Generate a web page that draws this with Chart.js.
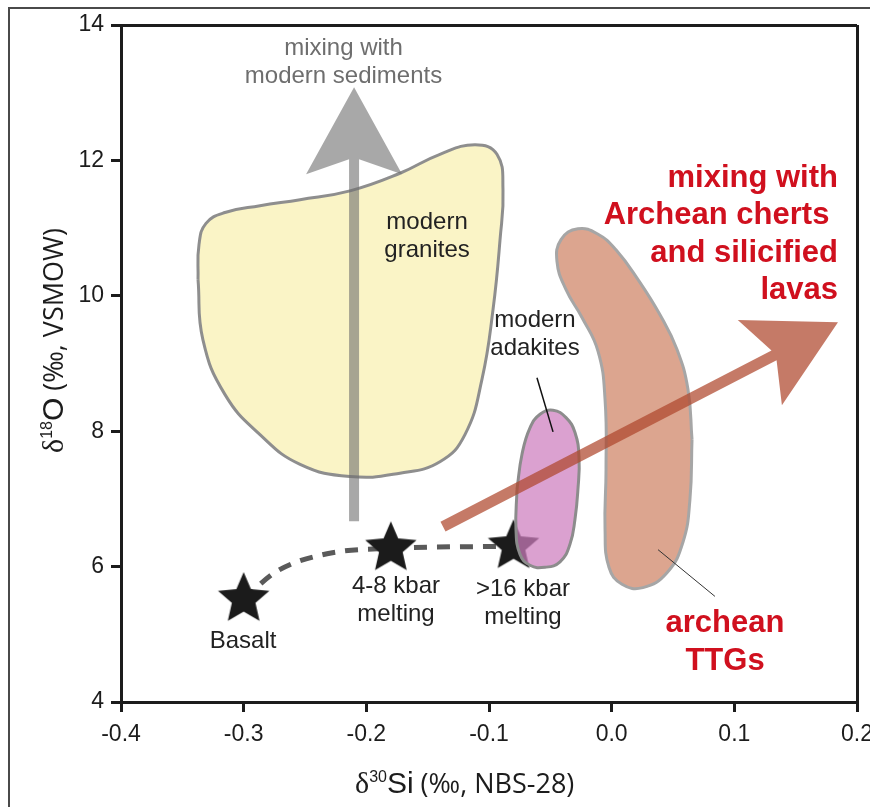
<!DOCTYPE html>
<html>
<head>
<meta charset="utf-8">
<script src="https://cdn.jsdelivr.net/npm/chart.js@4.4.1/dist/chart.umd.min.js"></script>
<style>
  html, body { margin: 0; padding: 0; background: #fff; overflow: hidden; width: 870px; height: 807px; }
  #frame { position: absolute; left: 8px; top: 7px; width: 900px; height: 900px;
           border-left: 2px solid #4a4a4a; border-top: 2px solid #4a4a4a; box-sizing: border-box; }
  #wrap { position: absolute; left: 0; top: 0; width: 890px; height: 807px; }
</style>
</head>
<body>
<div id="frame"></div>
<div id="wrap"><canvas id="chart" width="890" height="807"></canvas></div>
<script>
// ---- axis ticks ----
const xTickLabels = ['-0.4', '-0.3', '-0.2', '-0.1', '0.0', '0.1', '0.2'];
const yTickLabels = ['4', '6', '8', '10', '12', '14'];

// ---- fields (outline vertices, δ30Si / δ18O) ----
const graniteX = [-0.3372, -0.3364, -0.3307, -0.3152, -0.2867, -0.2540, -0.2133, -0.1726, -0.1400, -0.1114,
                  -0.0935, -0.0886, -0.0910, -0.0967, -0.1057, -0.1196, -0.1400, -0.1726, -0.2133, -0.2540,
                  -0.2867, -0.3152, -0.3332, -0.3372];
const graniteY = [10.24, 10.76, 11.07, 11.23, 11.33, 11.42, 11.55, 11.81, 12.09, 12.23,
                  12.09, 11.57, 10.83, 9.80, 8.77, 7.95, 7.55, 7.38, 7.33, 7.51,
                  7.95, 8.54, 9.35, 10.24];

const ttgX = [0.0655, 0.0638, 0.0581, 0.0451, 0.0255, 0.0084, -0.0022, -0.0054, -0.0046, -0.0054,
              -0.0111, -0.0242, -0.0372, -0.0446, -0.0413, -0.0275, -0.0111, 0.0035, 0.0215, 0.0394,
              0.0532, 0.0622, 0.0655];
const ttgY = [7.88, 6.99, 6.36, 5.91, 5.69, 5.74, 5.99, 6.55, 7.43, 8.47,
              9.18, 9.68, 10.09, 10.51, 10.83, 10.99, 10.91, 10.68, 10.24, 9.72,
              9.21, 8.62, 7.88];

const adakiteX = [-0.0772, -0.0731, -0.0666, -0.0584, -0.0478, -0.0372, -0.0299, -0.0266, -0.0275,
                  -0.0299, -0.0340, -0.0421, -0.0544, -0.0666, -0.0747, -0.0780, -0.0772];
const adakiteY = [7.14, 7.66, 8.05, 8.25, 8.31, 8.20, 7.98, 7.61, 7.14,
                  6.70, 6.33, 6.07, 5.99, 6.02, 6.18, 6.55, 7.14];

// ---- melting products ----
const starNames = ['Basalt', '4-8 kbar melting', '>16 kbar melting'];
const starX = [-0.30, -0.18, -0.08];
const starY = [5.52, 6.27, 6.30];

const meltPathX = [-0.30, -0.273, -0.232, -0.18, -0.08];
const meltPathY = [5.52, 5.93, 6.19, 6.27, 6.30];

// ---- mixing trends ----
const sedimentArrowX = [-0.21, -0.21];
const sedimentArrowY = [6.67, 13.08];
const chertArrowX = [-0.1375, 0.1845];
const chertArrowY = [6.59, 9.61];

// ---- label leaders ----
const adakiteLeaderX = [-0.0609, -0.0478];
const adakiteLeaderY = [8.79, 7.99];
const ttgLeaderX = [0.0378, 0.0842];
const ttgLeaderY = [6.25, 5.56];

const pts = (xs, ys) => xs.map((x, i) => ({ x, y: ys[i] }));

const SANS = '"Liberation Sans", Arial, Helvetica, sans-serif';
const INK = '#1c1c1c';
const RED = '#d0101e';

function makeStar(R, ratio, color) {
  const size = Math.ceil(2 * R) + 4;
  const c = document.createElement('canvas');
  c.width = size; c.height = size;
  const g = c.getContext('2d');
  const cx = size / 2, cy = size / 2;
  g.beginPath();
  for (let i = 0; i < 10; i++) {
    const r = i % 2 === 0 ? R : R * ratio;
    const a = -Math.PI / 2 + i * Math.PI / 5;
    const px = cx + r * Math.cos(a), py = cy + r * Math.sin(a);
    if (i === 0) g.moveTo(px, py); else g.lineTo(px, py);
  }
  g.closePath();
  g.fillStyle = color;
  g.fill();
  return c;
}
const starImage = makeStar(27, 0.46, '#1b1b1b');

// text notes placed in data coordinates
const notes = [
  { lines: ['mixing with', 'modern sediments'], x: -0.2186, y: 13.55, align: 'center', color: '#6e6e6e', font: '24px ' + SANS, lh: 28 },
  { lines: ['modern', 'granites'], x: -0.1505, y: 10.98, align: 'center', color: '#222', font: '24px ' + SANS, lh: 28 },
  { lines: ['modern', 'adakites'], x: -0.0625, y: 9.546, align: 'center', color: '#222', font: '24px ' + SANS, lh: 28 },
  { lines: ['mixing with', 'Archean cherts ', 'and silicified', 'lavas'], x: 0.1845, y: 11.614, align: 'right', color: RED, font: 'bold 31px ' + SANS, lh: 37.5 },
  { lines: ['archean', 'TTGs'], x: 0.0924, y: 5.041, align: 'center', color: RED, font: 'bold 31px ' + SANS, lh: 38 },
  { lines: ['4-8 kbar', 'melting'], x: -0.1758, y: 5.603, align: 'center', color: '#222', font: '24px ' + SANS, lh: 28 },
  { lines: ['>16 kbar', 'melting'], x: -0.0723, y: 5.559, align: 'center', color: '#222', font: '24px ' + SANS, lh: 28 },
  { lines: ['Basalt'], x: -0.3005, y: 4.805, align: 'center', color: '#222', font: '24px ' + SANS, lh: 28 }
];

const xTitle = [
  { t: 'δ', font: '30px "Liberation Serif", "Times New Roman", serif' },
  { t: '30', font: '16px ' + SANS, dy: -11 },
  { t: 'Si', font: '30px ' + SANS },
  { t: ' (‰, NBS-28)', font: '27px "Open Sans", "DejaVu Sans", sans-serif' }
];
const yTitle = [
  { t: 'δ', font: '30px "Liberation Serif", "Times New Roman", serif' },
  { t: '18', font: '16px ' + SANS, dy: -11 },
  { t: 'O', font: '30px ' + SANS },
  { t: ' (‰, VSMOW)', font: '27px "Open Sans", "DejaVu Sans", sans-serif' }
];

function drawPieces(ctx, pieces, x0, y0, rot) {
  ctx.save();
  ctx.translate(x0, y0);
  ctx.rotate(rot);
  ctx.fillStyle = INK;
  ctx.textBaseline = 'alphabetic';
  ctx.textAlign = 'left';
  let cx = 0;
  for (const p of pieces) {
    ctx.font = p.font;
    ctx.fillText(p.t, cx, p.dy || 0);
    cx += ctx.measureText(p.t).width;
  }
  ctx.restore();
}

// filled arrow (shaft + notched head) between the two points of a dataset
const arrowShapes = {
  id: 'arrowShapes',
  afterDatasetDraw(chart, args) {
    const ds = chart.data.datasets[args.index];
    const a = ds.arrowHead;
    if (!a) return;
    const el = args.meta.data;
    const p0 = el[0], p1 = el[el.length - 1];
    const dx = p1.x - p0.x, dy = p1.y - p0.y, L = Math.hypot(dx, dy);
    const ux = dx / L, uy = dy / L, nx = -uy, ny = ux;
    const at = (along, side) => [p1.x - ux * along + nx * side, p1.y - uy * along + ny * side];
    const poly = [
      [p0.x + nx * a.shaft / 2, p0.y + ny * a.shaft / 2],
      at(a.notch, a.shaft / 2),
      at(a.length, a.half),
      [p1.x, p1.y],
      at(a.length, -a.half),
      at(a.notch, -a.shaft / 2),
      [p0.x - nx * a.shaft / 2, p0.y - ny * a.shaft / 2]
    ];
    const ctx = chart.ctx;
    ctx.save();
    ctx.beginPath();
    poly.forEach((p, i) => i ? ctx.lineTo(p[0], p[1]) : ctx.moveTo(p[0], p[1]));
    ctx.closePath();
    ctx.fillStyle = a.color;
    ctx.fill();
    ctx.restore();
  }
};

const noteText = {
  id: 'noteText',
  afterDatasetsDraw(chart) {
    const ctx = chart.ctx, sx = chart.scales.x, sy = chart.scales.y;
    ctx.save();
    ctx.textBaseline = 'alphabetic';
    for (const n of notes) {
      ctx.font = n.font;
      ctx.fillStyle = n.color;
      ctx.textAlign = n.align;
      const px = sx.getPixelForValue(n.x), py = sy.getPixelForValue(n.y);
      n.lines.forEach((line, i) => ctx.fillText(line, px, py + i * n.lh));
    }
    ctx.restore();
  },
  afterDraw(chart) {
    const a = chart.chartArea, ctx = chart.ctx;
    drawPieces(ctx, xTitle, a.left + 234, a.bottom + 91, 0);
    drawPieces(ctx, yTitle, a.left - 58, a.top + 428, -Math.PI / 2);
  }
};

const fieldLine = (data, fillColor, strokeColor, order) => ({
  data, order,
  fill: 'shape',
  backgroundColor: fillColor,
  borderColor: strokeColor,
  borderWidth: 3,
  tension: 0.45,
  pointRadius: 0,
  borderJoinStyle: 'round'
});

const datasets = [
  // leaders (top)
  { data: pts(adakiteLeaderX, adakiteLeaderY), order: 0, borderColor: '#111', borderWidth: 1.5, pointRadius: 0, fill: false },
  { data: pts(ttgLeaderX, ttgLeaderY), order: 0, borderColor: '#333', borderWidth: 1, pointRadius: 0, fill: false },
  // mixing trends
  { data: pts(chertArrowX, chertArrowY), order: 1, showLine: false, pointRadius: 0,
    arrowHead: { color: 'rgba(175,70,45,0.72)', shaft: 11, length: 88, half: 48, notch: 72 } },
  { data: pts(sedimentArrowX, sedimentArrowY), order: 2, showLine: false, pointRadius: 0,
    arrowHead: { color: 'rgba(110,110,110,0.6)', shaft: 10, length: 87, half: 48, notch: 72 } },
  // fields
  fieldLine(pts(adakiteX, adakiteY), 'rgba(205,125,190,0.72)', '#8c8c8c', 3),
  // melting products
  { data: pts(starX, starY), order: 4, showLine: false, pointStyle: starImage, pointRadius: 12 },
  { data: pts(meltPathX, meltPathY), order: 5, borderColor: '#5a5a5a', borderWidth: 5, borderDash: [13, 10],
    cubicInterpolationMode: 'monotone', pointRadius: 0, fill: false },
  fieldLine(pts(ttgX, ttgY), '#dca58f', '#a6a6a6', 6),
  fieldLine(pts(graniteX, graniteY), '#faf4c6', '#8e8e8e', 7)
];

const tickFont = { family: SANS, size: 23 };

new Chart(document.getElementById('chart'), {
  type: 'line',
  data: { datasets },
  plugins: [arrowShapes, noteText],
  options: {
    responsive: false,
    animation: false,
    events: [],
    layout: { padding: { left: 0, right: 33, top: 25, bottom: 0 } },
    plugins: { legend: { display: false }, tooltip: { enabled: false } },
    scales: {
      x: {
        type: 'linear', min: -0.4, max: 0.2,
        afterBuildTicks: s => { s.ticks = xTickLabels.map(t => ({ value: parseFloat(t) })); },
        afterFit: s => { s.height = 105; },
        ticks: { callback: (v, i) => xTickLabels[i], font: tickFont, color: INK, padding: 9, maxRotation: 0, autoSkip: false },
        grid: {
          color: c => (c.index === xTickLabels.length - 1 ? INK : 'rgba(0,0,0,0)'),
          lineWidth: 3, tickLength: 10, tickWidth: 3, tickColor: INK
        },
        border: { color: INK, width: 3 }
      },
      y: {
        type: 'linear', min: 4, max: 14,
        afterBuildTicks: s => { s.ticks = yTickLabels.map(t => ({ value: parseFloat(t) })); },
        afterFit: s => { s.width = 121; },
        ticks: { callback: (v, i) => yTickLabels[i], font: tickFont, color: INK, padding: 7 },
        grid: {
          color: c => (c.index === yTickLabels.length - 1 ? INK : 'rgba(0,0,0,0)'),
          lineWidth: 3, tickLength: 10, tickWidth: 3, tickColor: INK
        },
        border: { color: INK, width: 3 }
      }
    }
  }
});
</script>
</body>
</html>
